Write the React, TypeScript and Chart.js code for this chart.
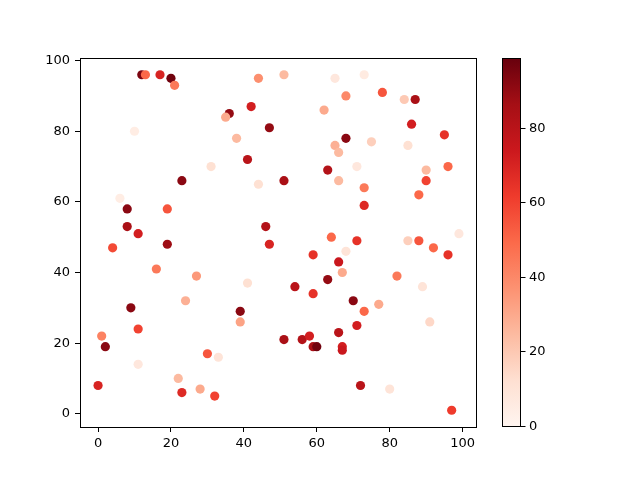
import { Chart, registerables } from 'chart.js';
import { useEffect, useRef } from 'react';

Chart.register(...registerables);

// point data (x, y, colour value)
const xs = [12, 13, 17, 20, 21, 44, 51, 42, 36, 35, 47, 10, 38, 41, 31, 23, 44, 51, 6, 8,
    19, 8, 11, 46, 65, 73, 78, 68, 84, 87, 62, 86, 95, 68, 65, 75, 85, 66, 71, 63,
    90, 96, 66, 90, 73, 88, 73, 99, 64, 71, 85, 88, 4, 19, 47, 16, 27, 41, 24, 9,
    39, 39, 11, 1, 2, 51, 30, 33, 11, 22, 0, 23, 28, 32, 68, 92, 96, 59, 66, 67,
    63, 82, 89, 54, 59, 70, 77, 73, 71, 91, 66, 56, 58, 59, 60, 67, 67, 72, 80, 97];
const ys = [96, 96, 96, 95, 93, 95, 96, 87, 85, 84, 81, 80, 78, 72, 70, 66, 65, 66, 61, 58,
    58, 53, 51, 53, 95, 96, 91, 90, 89, 89, 86, 82, 79, 78, 76, 77, 76, 74, 70, 69,
    69, 70, 66, 66, 64, 62, 59, 51, 50, 49, 49, 49, 47, 48, 48, 41, 39, 37, 32, 30,
    29, 26, 24, 22, 19, 21, 17, 16, 14, 10, 8, 6, 7, 5, 46, 47, 45, 45, 43, 40,
    38, 39, 36, 36, 34, 32, 31, 29, 25, 26, 23, 21, 22, 19, 19, 19, 18, 8, 7, 1];
const cs = [95, 50, 70, 97, 45, 38, 25, 72, 90, 30, 90, 5, 25, 80, 12, 92, 12, 85, 5, 92,
    55, 85, 72, 82, 8, 6, 55, 40, 20, 85, 30, 72, 65, 92, 28, 18, 12, 25, 8, 82,
    25, 50, 25, 60, 45, 50, 68, 8, 50, 65, 18, 55, 58, 88, 70, 45, 35, 12, 28, 92,
    92, 32, 60, 42, 92, 85, 55, 10, 8, 25, 70, 68, 30, 60, 10, 50, 65, 65, 75, 30,
    90, 45, 10, 80, 65, 92, 30, 50, 72, 15, 80, 82, 72, 85, 97, 72, 75, 80, 10, 62];

const axisTicks = [0, 20, 40, 60, 80, 100];
const colorbarTicks = [0, 20, 40, 60, 80];
const cMin = 0;
const cMax = 99;

// matplotlib "Reds"
const reds = ['#fff5f0', '#fee0d2', '#fcbba1', '#fc9272', '#fb6a4a', '#ef3b2c', '#cb181d', '#a50f15', '#67000d'];

function hexRgb(h: string) {
    return [1, 3, 5].map(i => parseInt(h.slice(i, i + 2), 16));
}

function redsColor(v: number) {
    const t = Math.min(1, Math.max(0, (v - cMin) / (cMax - cMin))) * (reds.length - 1);
    const i = Math.min(reds.length - 2, Math.floor(t));
    const f = t - i;
    const a = hexRgb(reds[i]);
    const b = hexRgb(reds[i + 1]);
    const c = a.map((x, k) => Math.round(x + (b[k] - x) * f));
    return `rgb(${c[0]},${c[1]},${c[2]})`;
}

const FONT = { family: 'DejaVu Sans', size: 13 };

const framePlugin = {
    id: 'frameAndColorbar',
    afterDraw(chart: any) {
        const { ctx, chartArea } = chart;
        ctx.save();
        ctx.strokeStyle = '#000';
        ctx.lineWidth = 1;
        ctx.strokeRect(chartArea.left + 0.5, chartArea.top + 0.5,
            chartArea.right - chartArea.left - 1, chartArea.bottom - chartArea.top);

        // colorbar, placed on a hidden scale that spans the plot height
        const cb = chart.scales.cb;
        const top = cb.getPixelForValue(cMax);
        const bottom = cb.getPixelForValue(cMin);
        const left = 502;
        const right = 521;
        const grad = ctx.createLinearGradient(0, bottom, 0, top);
        reds.forEach((c, i) => grad.addColorStop(i / (reds.length - 1), c));
        ctx.fillStyle = grad;
        ctx.fillRect(left, top, right - left, bottom - top);
        ctx.strokeRect(left + 0.5, top + 0.5, right - left - 1, bottom - top - 1);

        ctx.fillStyle = '#000';
        ctx.font = `${FONT.size}px "${FONT.family}"`;
        ctx.textAlign = 'left';
        ctx.textBaseline = 'middle';
        colorbarTicks.forEach(v => {
            const y = Math.round(cb.getPixelForValue(v)) - 0.5;
            ctx.beginPath();
            ctx.moveTo(right - 0.5, y);
            ctx.lineTo(right + 4.5, y);
            ctx.stroke();
            ctx.fillText(String(v), right + 8, y);
        });
        ctx.restore();
    }
};

function ScatterChart() {
    const canvasRef = useRef<HTMLCanvasElement>(null);
    const chartRef = useRef<Chart | null>(null);

    useEffect(() => {
        document.body.style.margin = '0';
        if (!canvasRef.current) return;
        const ctx = canvasRef.current.getContext('2d');
        if (!ctx) return;

        if (chartRef.current) chartRef.current.destroy();

        const points = xs.map((x, i) => ({ x, y: ys[i] }));

        chartRef.current = new Chart(ctx, {
            type: 'scatter',
            data: {
                datasets: [{
                    data: points,
                    backgroundColor: cs.map(redsColor),
                    borderWidth: 0,
                    pointRadius: 4.6,
                    pointHoverRadius: 4.6
                }]
            },
            options: {
                responsive: false,
                animation: false,
                layout: { padding: { top: 58, right: 163, left: 0, bottom: 0 } },
                plugins: {
                    legend: { display: false },
                    tooltip: { enabled: false }
                },
                scales: {
                    x: {
                        type: 'linear',
                        min: -4.95,
                        max: 103.95,
                        afterBuildTicks: (s: any) => { s.ticks = axisTicks.map(value => ({ value })); },
                        afterFit: (s: any) => { s.height = 53; },
                        border: { display: false },
                        grid: { drawOnChartArea: false, color: '#000', tickLength: 5 },
                        ticks: { color: '#000', font: FONT, padding: 4, maxRotation: 0 }
                    },
                    y: {
                        type: 'linear',
                        min: -3.75,
                        max: 100.75,
                        afterBuildTicks: (s: any) => { s.ticks = axisTicks.map(value => ({ value })); },
                        afterFit: (s: any) => { s.width = 80; },
                        border: { display: false },
                        grid: { drawOnChartArea: false, color: '#000', tickLength: 5 },
                        ticks: { color: '#000', font: FONT, padding: 5 }
                    },
                    cb: {
                        type: 'linear',
                        axis: 'y',
                        position: 'right',
                        display: false,
                        min: cMin,
                        max: cMax
                    }
                }
            },
            plugins: [framePlugin]
        });

        return () => {
            if (chartRef.current) {
                chartRef.current.destroy();
                chartRef.current = null;
            }
        };
    }, []);

    return <canvas ref={canvasRef} width={640} height={480} style={{ display: 'block' }} />;
}

export default function App() {
    return <ScatterChart />;
}
